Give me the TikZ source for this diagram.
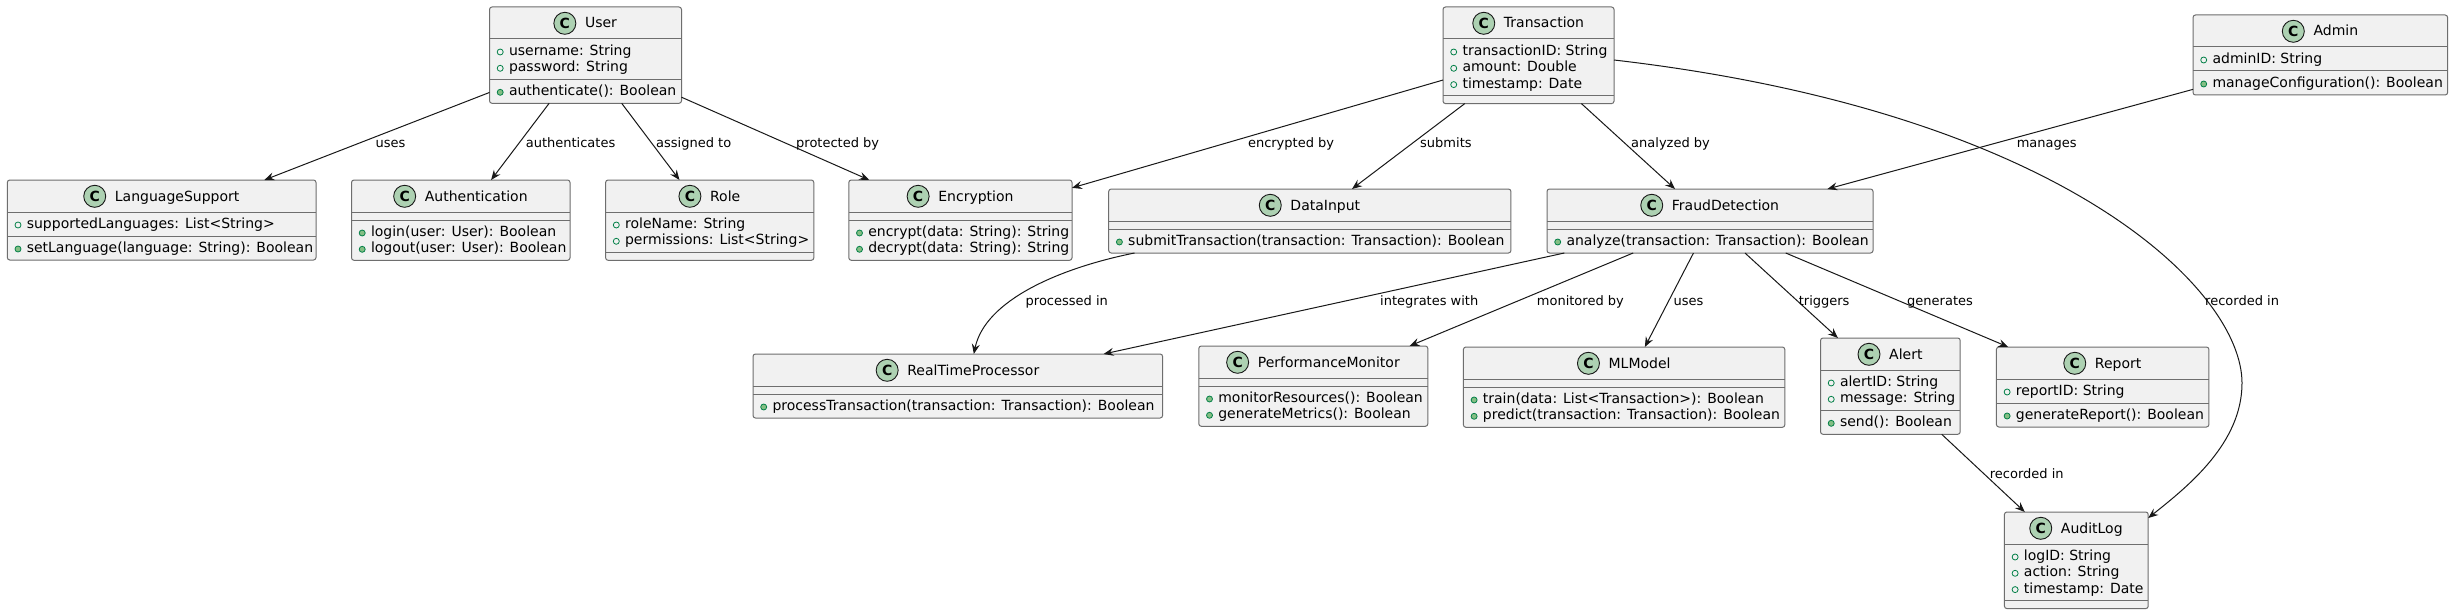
\documentclass[tikz,border=0pt]{standalone}
\usepackage{fontspec}
\setmainfont{DejaVu Sans}
\usetikzlibrary{arrows.meta,calc}
\definecolor{boxfill}{HTML}{F1F1F1}
\definecolor{boxline}{HTML}{6E6E6E}
\definecolor{ink}{HTML}{181818}
\definecolor{iconfill}{HTML}{ADD1B2}
\definecolor{visline}{HTML}{038048}
\definecolor{visfill}{HTML}{84BE84}
\tikzset{
  classbox/.style={draw=boxline, fill=boxfill, line width=1pt, rounded corners=2.5pt, inner sep=0pt, outer sep=0pt, anchor=north west},
  sepline/.style={draw=boxline, line width=1pt},
  classicon/.style={circle, draw=ink, fill=iconfill, line width=0.9pt, minimum size=22pt, inner sep=0pt, font=\fontsize{14}{14}\selectfont\bfseries},
  titletext/.style={anchor=base, inner sep=0pt, font=\fontsize{14}{16}\selectfont, text=black},
  membertext/.style={anchor=base west, inner sep=0pt, font=\fontsize{14}{16}\selectfont, text=black},
  attrmark/.style={circle, draw=visline, fill=none, line width=0.8pt, minimum size=6pt, inner sep=0pt},
  methmark/.style={circle, draw=visline, fill=visfill, line width=0.8pt, minimum size=6pt, inner sep=0pt},
  conn/.style={draw=ink, line width=1pt, -{Stealth[length=10pt,width=8pt,inset=3.5pt]}},
  lbl/.style={anchor=base west, inner sep=0pt, font=\fontsize{13}{15}\selectfont, text=black},
}
% #1 id, #2 left, #3 top, #4 width, #5 title, #6 n attrs, #7 attrs, #8 n methods, #9 methods
\newcommand\umlclass[9]{%
  \pgfmathsetmacro\hA{ifthenelse(#6>0,#6*16.3+7.7,8)}%
  \pgfmathsetmacro\hB{ifthenelse(#8>0,#8*16.3+7.7,8)}%
  \pgfmathsetmacro\hT{32+\hA+\hB}%
  \node[classbox, minimum width=#4pt, minimum height={\hT pt}] (#1) at ({#2},{#3}) {};
  \draw[sepline] ($(#1.north west)+(0,32)$) -- ($(#1.north east)+(0,32)$);
  \draw[sepline] ($(#1.north west)+(0,{32+\hA})$) -- ($(#1.north east)+(0,{32+\hA})$);
  \coordinate (#1-hc) at ({#2},{#3+16.3});
  \node[titletext] (#1-name) at ({#2+#4/2+15.5},{#3+21}) {#5};
  \node[classicon] (#1-icon) at ($(#1-name.west |- #1-hc)+(-20,0)$) {C};
  \ifnum#6>0
  \foreach \m [count=\i] in {#7}{%
    \pgfmathsetmacro\yy{#3+32+16.5+(\i-1)*16.3}
    \node[membertext] (#1-a\i) at ({#2+19.3},{\yy}) {\m};
    \node[attrmark] (#1-am\i) at ({#2+10.7},{\yy-3.5}) {};
  }\fi
  \ifnum#8>0
  \foreach \m [count=\i] in {#9}{%
    \pgfmathsetmacro\yy{#3+32+\hA+16.5+(\i-1)*16.3}
    \node[membertext] (#1-m\i) at ({#2+19.3},{\yy}) {\m};
    \node[methmark] (#1-mm\i) at ({#2+10.7},{\yy-3.5}) {};
  }\fi
}
\begin{document}
\begin{tikzpicture}[x=1pt,y=-1pt]
\useasboundingbox (0,0) rectangle (2454,615);
\fill[white] (0,0) rectangle (2454,615);

\umlclass{user}{489.5}{7}{192}{User}{2}{{username: String},{password: String}}{1}{{authenticate(): Boolean}}
\umlclass{lang}{7.3}{180}{308.7}{LanguageSupport}{1}{{supportedLanguages: List<String>}}{1}{{setLanguage(language: String): Boolean}}
\umlclass{auth}{351.5}{180}{218.5}{Authentication}{0}{}{2}{{login(user: User): Boolean},{logout(user: User): Boolean}}
\umlclass{role}{605.6}{180}{208.2}{Role}{2}{{roleName: String},{permissions: List<String>}}{0}{}
\umlclass{enc}{848.8}{180}{223.2}{Encryption}{0}{}{2}{{encrypt(data: String): String},{decrypt(data: String): String}}
\umlclass{datain}{1108.7}{189}{402.2}{DataInput}{0}{}{1}{{submitTransaction(transaction: Transaction): Boolean}}
\umlclass{trans}{1443}{7}{171}{Transaction}{3}{{transactionID: String},{amount: Double},{timestamp: Date}}{0}{}
\umlclass{fraud}{1547}{189}{326}{FraudDetection}{0}{}{1}{{analyze(transaction: Transaction): Boolean}}
\umlclass{admin}{2193}{15}{254.6}{Admin}{1}{{adminID: String}}{1}{{manageConfiguration(): Boolean}}
\umlclass{rtp}{753}{354}{409.6}{RealTimeProcessor}{0}{}{1}{{processTransaction(transaction: Transaction): Boolean}}
\umlclass{perf}{1198.8}{346}{229}{PerformanceMonitor}{0}{}{2}{{monitorResources(): Boolean},{generateMetrics(): Boolean}}
\umlclass{ml}{1463.4}{347}{321.4}{MLModel}{0}{}{2}{{train(data: List<Transaction>): Boolean},{predict(transaction: Transaction): Boolean}}
\umlclass{alert}{1820.5}{338}{139.7}{Alert}{2}{{alertID: String},{message: String}}{1}{{send(): Boolean}}
\umlclass{report}{1996.4}{347}{212.5}{Report}{1}{{reportID: String}}{1}{{generateReport(): Boolean}}
\umlclass{audit}{2004.4}{512}{143.8}{AuditLog}{3}{{logID: String},{action: String},{timestamp: Date}}{0}{}

% straight connectors
\draw[conn] (user) -- (lang);
\draw[conn] (user) -- (auth);
\draw[conn] (user) -- (role);
\draw[conn] (user) -- (enc);
\draw[conn] (trans) -- (enc);
\draw[conn] (trans) -- (datain);
\draw[conn] (trans) -- (fraud);
\draw[conn] (admin) -- (fraud);
\draw[conn] (fraud) -- (rtp);
\draw[conn] (fraud) -- (perf);
\draw[conn] (fraud) -- (ml);
\draw[conn] (fraud) -- (alert);
\draw[conn] (fraud) -- (report);
\draw[conn] (alert) -- (audit);

% curved connectors
\coordinate (tstart) at ($(trans.east)+(0,4.7)$);
\coordinate (aend) at ($(audit.north east)+(0,6)$);
\coordinate (tbend) at (2242,383);
\draw[conn] (tstart) .. controls (2063,112) and (2242,290) .. (tbend) .. controls (2242,443) and (2188.5,486) .. (aend);
\coordinate (dstart) at ($(datain.south west)+(25.8,0)$);
\coordinate (rend) at ($(rtp.north west)+(220.8,0)$);
\draw[conn] (dstart) .. controls (1060,268) and (985,300) .. (rend);

% labels
\node[lbl] (l1) at (375.5,147.5) {uses};
\node[lbl] (l2) at (525.6,147.5) {authenticates};
\node[lbl] (l3) at (656,147.5) {assigned to};
\node[lbl] (l4) at (796,147.5) {protected by};
\node[lbl] (l5) at (1247.8,147.5) {encrypted by};
\node[lbl] (l6) at (1420,147.5) {submits};
\node[lbl] (l7) at (1631,147.5) {analyzed by};
\node[lbl] (l8) at (2016.6,147.5) {manages};
\node[lbl] (l9) at (2205,305.5) {recorded in};
\node[lbl] (l10) at (1025.5,305.5) {processed in};
\node[lbl] (l11) at (1380,305.5) {integrates with};
\node[lbl] (l12) at (1536.7,305.5) {monitored by};
\node[lbl] (l13) at (1673.3,305.5) {uses};
\node[lbl] (l14) at (1798.6,305.5) {triggers};
\node[lbl] (l15) at (1907,305.5) {generates};
\node[lbl] (l16) at (1989.7,478) {recorded in};
\end{tikzpicture}
\end{document}
